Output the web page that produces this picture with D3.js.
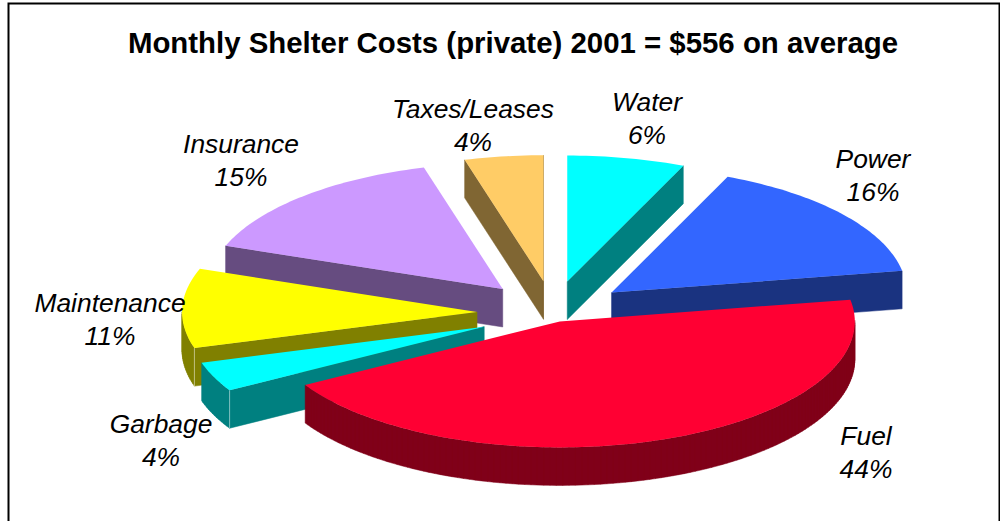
<!DOCTYPE html>
<html>
<head>
<meta charset="utf-8">
<script src="https://cdn.jsdelivr.net/npm/d3@7"></script>
<style>
html, body { margin: 0; padding: 0; background: #fff; }
svg { display: block; font-family: "Liberation Sans", Arial, sans-serif; }
</style>
</head>
<body>
<svg id="chart" width="1000" height="521"></svg>
<script>
var title = 'Monthly Shelter Costs (private) 2001 = $556 on average';
var categories = ['Water', 'Power', 'Fuel', 'Garbage', 'Maintenance', 'Insurance', 'Taxes/Leases'];
var shares = [6, 16, 44, 4, 11, 15, 4];
var topColors = ['#00ffff', '#3366ff', '#ff0033', '#00ffff', '#ffff00', '#cc99ff', '#ffcc66'];
var sideColors = ['#008080', '#1a3380', '#800019', '#008080', '#808000', '#664c80', '#806633'];
var explodes = [1, 1, 0.35, 1, 1, 1, 1];
var labelPos = [[647, 111], [873, 168], [866, 445], [161, 433], [110, 312], [241, 153], [473, 118]];

var cx = 553, cy = 313;
var rx = 295, ry = 126, depth = 38;
var explodeX = 76, explodeY = 32;
var warp = 0.04; // excel's 3d view bends the angles a little
var fuelNudge = [-3, -2];

var svg = d3.select('#chart');

// frame
svg.append('path')
	.attr('d', 'M8.5,521V3.5H999.5V521')
	.attr('fill', 'none')
	.attr('stroke', '#000')
	.attr('stroke-width', 2);

svg.append('text')
	.attr('x', 513)
	.attr('y', 53)
	.attr('text-anchor', 'middle')
	.attr('font-size', 29.4)
	.attr('font-weight', 'bold')
	.text(title);

var pie = d3.pie().sort(null);
var slices = pie(shares).map(function (d, i) {
	var mid = (d.startAngle + d.endAngle) / 2;
	var ox = cx + Math.sin(mid) * explodeX * explodes[i];
	var oy = cy - Math.cos(mid) * explodeY * explodes[i];
	if (categories[i] == 'Fuel') {
		ox += fuelNudge[0];
		oy += fuelNudge[1];
	}
	var n = Math.ceil((d.endAngle - d.startAngle) / 0.02);
	var pts = [[ox, oy]];
	d3.range(n + 1).forEach(function (k) {
		var a = d.startAngle + (d.endAngle - d.startAngle) * k / n;
		a += warp * Math.sin(2 * a);
		pts.push([ox + Math.sin(a) * rx, oy - Math.cos(a) * ry]);
	});
	return {i: i, ox: ox, oy: oy, pts: pts};
});

// wall = all edges that face the viewer, pushed down by depth
function wall(s) {
	var out = '';
	s.pts.forEach(function (p, j) {
		var q = s.pts[(j + 1) % s.pts.length];
		if (q[0] < p[0]) {
			out += 'M' + p[0] + ',' + p[1] + 'L' + q[0] + ',' + q[1] +
				'L' + q[0] + ',' + (q[1] + depth) + 'L' + p[0] + ',' + (p[1] + depth) + 'Z';
		}
	});
	return out;
}

// pale hairline where the cut wall meets the outer wall
function corner(s) {
	var p = s.pts, n = p.length - 1, out = '';
	if (p[0][0] > p[1][0] && p[1][0] > p[2][0]) out += 'M' + p[1][0] + ',' + p[1][1] + 'v' + depth;
	if (p[n - 1][0] > p[n][0] && p[n][0] > p[0][0]) out += 'M' + p[n][0] + ',' + p[n][1] + 'v' + depth;
	return out;
}

// back to front
var order = [0, 6, 1, 5, 4, 3, 2];
var groups = svg.selectAll('g.slice')
	.data(order.map(function (i) { return slices[i]; }))
	.enter().append('g')
	.attr('class', 'slice');

groups.append('path')
	.attr('d', wall)
	.attr('fill', function (d) { return sideColors[d.i]; })
	.attr('stroke', function (d) { return sideColors[d.i]; })
	.attr('stroke-width', 0.5);

groups.append('path')
	.attr('d', corner)
	.attr('fill', 'none')
	.attr('stroke', '#fff')
	.attr('stroke-opacity', 0.5)
	.attr('stroke-width', 1);

groups.append('path')
	.attr('d', function (d) { return d3.line()(d.pts) + 'Z'; })
	.attr('fill', function (d) { return topColors[d.i]; });

var labels = svg.selectAll('text.lab')
	.data(categories)
	.enter().append('text')
	.attr('class', 'lab')
	.attr('text-anchor', 'middle')
	.attr('font-size', 26.4)
	.attr('font-style', 'italic')
	.attr('fill', '#000');

labels.append('tspan')
	.attr('x', function (d, i) { return labelPos[i][0]; })
	.attr('y', function (d, i) { return labelPos[i][1]; })
	.text(function (d) { return d; });
labels.append('tspan')
	.attr('x', function (d, i) { return labelPos[i][0]; })
	.attr('y', function (d, i) { return labelPos[i][1] + 33; })
	.text(function (d, i) { return shares[i] + '%'; });
</script>
</body>
</html>
